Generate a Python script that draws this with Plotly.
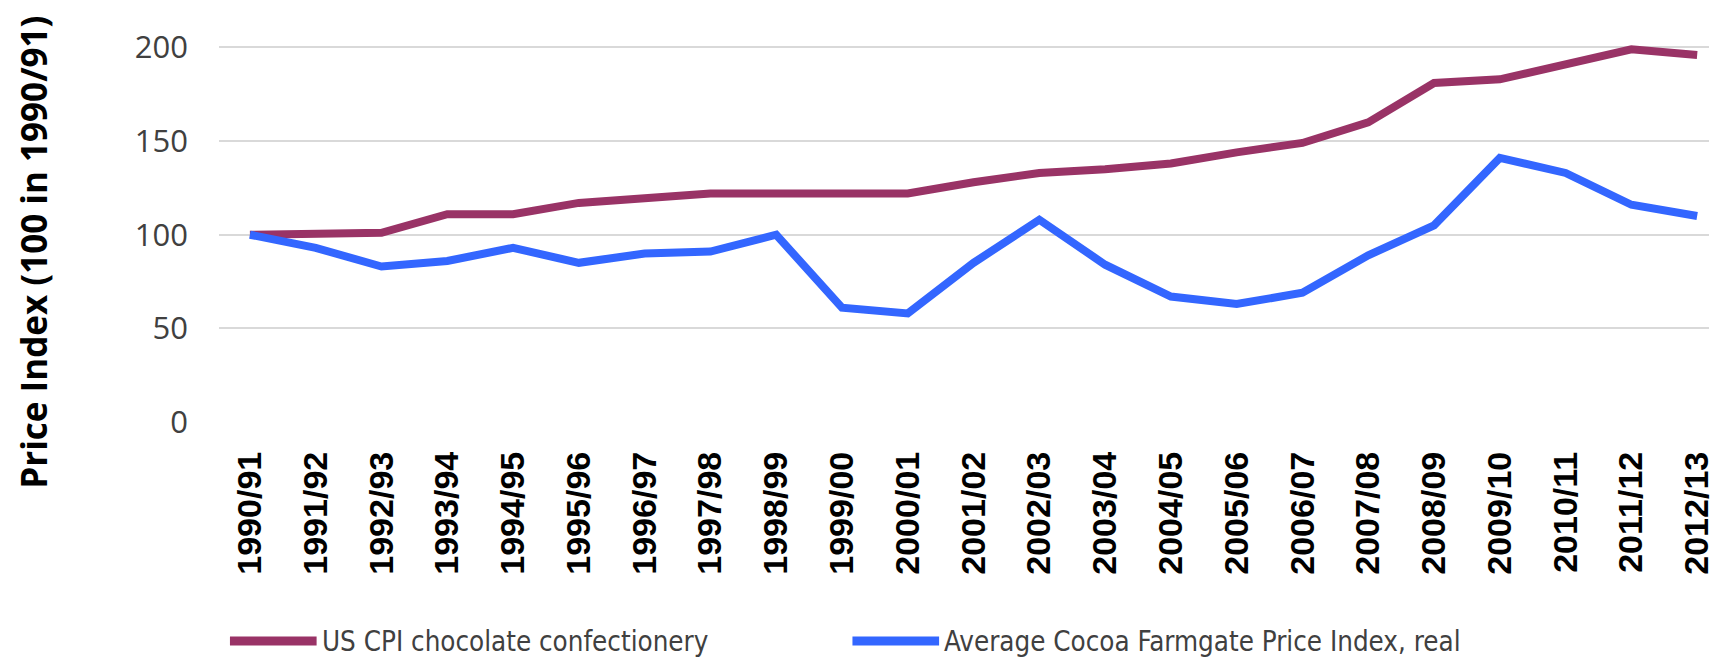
import plotly.graph_objects as go

seasons = ["1990/91", "1991/92", "1992/93", "1993/94", "1994/95", "1995/96", "1996/97",
           "1997/98", "1998/99", "1999/00", "2000/01", "2001/02", "2002/03", "2003/04",
           "2004/05", "2005/06", "2006/07", "2007/08", "2008/09", "2009/10", "2010/11",
           "2011/12", "2012/13"]
us_cpi_chocolate = [100, 100, 101, 111, 111, 117, 119, 122, 122, 122, 122, 128, 133, 135,
                    138, 144, 149, 160, 181, 183, 191, 199, 196]
cocoa_farmgate_real = [100, 93, 83, 86, 93, 85, 90, 91, 100, 61, 58, 85, 108, 84,
                       67, 63, 69, 89, 105, 141, 133, 116, 110]
y_ticks = [0, 50, 100, 150, 200]

series_names = ["US CPI chocolate confectionery", "Average Cocoa Farmgate Price Index, real"]
colors = ["#993366", "#3366FF"]

W, H = 1715, 659
ml, mr, mt, mb = 219, 0, 10, 237
pw, ph = W - ml - mr, H - mt - mb

fig = go.Figure()
for name, vals, col in zip(series_names, [us_cpi_chocolate, cocoa_farmgate_real], colors):
    fig.add_trace(go.Scatter(x=seasons, y=vals, mode="lines", name=name,
                             line=dict(color=col, width=8), showlegend=False,
                             cliponaxis=False))

fig.update_layout(
    width=W, height=H,
    margin=dict(l=ml, r=mr, t=mt, b=mb),
    paper_bgcolor="white", plot_bgcolor="white",
    xaxis=dict(type="category", range=[-0.47, 22.18], showgrid=False, zeroline=False,
               showline=False, ticks="", tickangle=-90,
               tickfont=dict(family="Liberation Sans, Arial", size=34, color="black", weight="bold"),
               ticklabelstandoff=22),
    yaxis=dict(range=[0, 220], tickvals=y_ticks, showgrid=True, gridcolor="#d9d9d9",
               gridwidth=1.5, zeroline=False, showline=False, ticks="",
               tickfont=dict(family="Open Sans", size=31, color="#404040"),
               ticklabelstandoff=30),
)

fig.add_annotation(text="<b>Price Index (100 in 1990/91)</b>", textangle=-90,
                   xref="paper", yref="paper",
                   x=(33 - ml) / pw, y=(H - mb - 252) / ph,
                   xanchor="center", yanchor="middle", showarrow=False,
                   font=dict(family="Open Sans", size=35, color="black"))

# legend (drawn manually to match the long line samples)
leg_y = (H - mb - 641) / ph
leg_items = [(230, 317, 320), (855, 942, 945)]
for (x0, x1, xt), name, col in zip(leg_items, series_names, colors):
    fig.add_shape(type="line", xref="paper", yref="paper",
                  x0=(x0 - ml) / pw, x1=(x1 - ml) / pw, y0=leg_y, y1=leg_y,
                  line=dict(color=col, width=9))
    fig.add_annotation(text=name, xref="paper", yref="paper",
                       x=(xt - ml) / pw, y=leg_y, xanchor="left", yanchor="middle",
                       showarrow=False,
                       font=dict(family="Liberation Sans Narrow, DejaVu Sans Condensed, Arial",
                                 size=27.5, color="#404040"))

fig.write_html("out.html")
